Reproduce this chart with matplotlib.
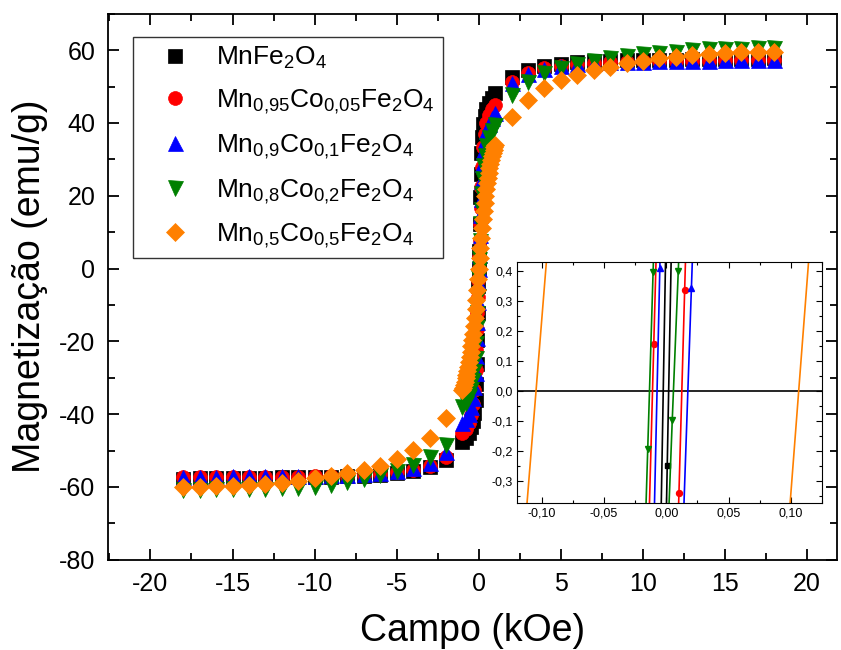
import matplotlib
matplotlib.use('Agg')
import matplotlib.pyplot as plt
from matplotlib.ticker import MultipleLocator, FuncFormatter

plt.rcParams['font.family'] = ['Liberation Sans', 'DejaVu Sans']
plt.rcParams['mathtext.fontset'] = 'custom'
plt.rcParams['mathtext.rm'] = 'Liberation Sans'
plt.rcParams['mathtext.it'] = 'Liberation Sans:italic'
plt.rcParams['axes.unicode_minus'] = False

# ---- main loop data (field in kOe, magnetization in emu/g) ----
field_neg = [-18, -17, -16, -15, -14, -13, -12, -11, -10, -9, -8, -7, -6, -5, -4, -3, -2]
field_pos = [2, 3, 4, 5, 6, 7, 8, 9, 10, 11, 12, 13, 14, 15, 16, 17, 18]
field_core = [-1.0, -0.8, -0.6, -0.45, -0.35, -0.27, -0.2, -0.15, -0.11, -0.08, -0.05, -0.02, 0.0,
              0.02, 0.05, 0.08, 0.11, 0.15, 0.2, 0.27, 0.35, 0.45, 0.6, 0.8, 1.0]
field_core_orange = [-1.0, -0.95, -0.9, -0.85, -0.8, -0.75, -0.7, -0.65, -0.6, -0.55, -0.5, -0.45, -0.4,
                     -0.35, -0.3, -0.25, -0.2, -0.15, -0.1, -0.05, 0.0, 0.05, 0.1, 0.15, 0.2, 0.25, 0.3,
                     0.35, 0.4, 0.45, 0.5, 0.55, 0.6, 0.65, 0.7, 0.75, 0.8, 0.85, 0.9, 0.95, 1.0]

black_neg = [-57.7, -57.6, -57.6, -57.6, -57.5, -57.5, -57.4, -57.4, -57.3, -57.2, -57.1, -56.9, -56.7, -56.3, -55.7, -54.6, -52.6]
black_core = [-47.6, -46.5, -45.1, -43.6, -41.9, -39.6, -36.1, -31.6, -26.1, -19.6, -12.1, -4.8, 0.0,
              4.8, 12.1, 19.6, 26.1, 31.6, 36.1, 39.6, 42.0, 43.8, 45.4, 46.9, 48.1]
black_pos = [52.7, 54.5, 55.7, 56.3, 56.7, 56.9, 57.1, 57.2, 57.3, 57.4, 57.4, 57.5, 57.5, 57.6, 57.6, 57.6, 57.7]

red_neg = [-57.4, -57.4, -57.4, -57.3, -57.3, -57.3, -57.2, -57.2, -57.1, -57.0, -56.9, -56.7, -56.4, -56.0, -55.4, -54.2, -51.7]
red_core = [-45.3, -44.2, -42.5, -40.3, -37.3, -33.4, -27.9, -22.3, -16.7, -12.3, -7.8, -3.1, 0.0,
            3.1, 7.8, 12.3, 16.7, 22.3, 27.9, 33.4, 37.0, 40.0, 42.3, 43.7, 44.9]
red_pos = [51.3, 53.7, 55.0, 55.7, 56.1, 56.4, 56.6, 56.8, 56.9, 57.0, 57.0, 57.1, 57.1, 57.2, 57.2, 57.3, 57.3]

blue_neg = [-57.2, -57.2, -57.2, -57.1, -57.1, -57.1, -57.0, -57.0, -56.9, -56.8, -56.6, -56.4, -56.1, -55.6, -54.9, -53.4, -50.3]
blue_core = [-42.5, -41.4, -39.9, -38.1, -35.6, -32.6, -28.6, -24.1, -19.1, -14.6, -9.3, -3.7, 0.0,
             3.7, 9.3, 14.6, 19.1, 24.1, 28.6, 32.2, 35.2, 37.8, 39.8, 41.4, 42.7]
blue_pos = [50.9, 53.4, 54.8, 55.6, 56.1, 56.4, 56.6, 56.7, 56.8, 56.9, 57.0, 57.1, 57.1, 57.2, 57.3, 57.3, 57.4]

green_neg = [-60.8, -60.8, -60.7, -60.7, -60.6, -60.5, -60.4, -60.2, -59.9, -59.4, -58.7, -57.8, -56.8, -55.7, -54.0, -51.9, -48.4]
green_core = [-38.0, -36.9, -35.1, -33.1, -30.6, -28.1, -24.6, -20.6, -16.1, -12.1, -7.6, -2.5, 0.0,
              2.5, 7.6, 12.1, 16.1, 20.6, 24.6, 28.2, 31.0, 33.6, 35.8, 37.8, 39.4]
green_pos = [47.7, 51.3, 53.6, 55.0, 56.1, 57.0, 57.7, 58.3, 58.8, 59.3, 59.6, 59.9, 60.2, 60.3, 60.4, 60.5, 60.5]

orange_neg = [-60.0, -59.9, -59.8, -59.7, -59.5, -59.2, -58.8, -58.3, -57.6, -56.9, -56.2, -55.4, -54.2, -52.3, -49.9, -46.6, -41.2]
orange_core = [-33.4, -32.7, -31.9, -31.1, -30.2, -29.2, -28.2, -27.0, -25.7, -24.3, -22.9, -21.4, -19.7,
               -17.9, -15.9, -13.7, -11.2, -8.6, -5.8, -2.9, 0.0, 2.9, 5.7, 8.5, 11.1, 13.6, 15.9,
               18.0, 20.0, 21.8, 23.4, 24.9, 26.3, 27.6, 28.8, 29.9, 30.9, 31.8, 32.6, 33.3, 33.9]
orange_pos = [41.7, 46.3, 49.5, 51.8, 53.2, 54.5, 55.4, 56.4, 57.1, 57.7, 58.2, 58.7, 58.9, 59.1, 59.4, 59.6, 59.6]

labels = [r'MnFe$_2$O$_4$',
          r'Mn$_{0{,}95}$Co$_{0{,}05}$Fe$_2$O$_4$',
          r'Mn$_{0{,}9}$Co$_{0{,}1}$Fe$_2$O$_4$',
          r'Mn$_{0{,}8}$Co$_{0{,}2}$Fe$_2$O$_4$',
          r'Mn$_{0{,}5}$Co$_{0{,}5}$Fe$_2$O$_4$']
colors = ['black', '#FF0000', '#0000FF', '#008000', '#FF8000']
markers = ['s', 'o', '^', 'v', 'D']
sizes = [9.4, 10, 10.8, 10.8, 8.7]

# ---- inset: both branches near the origin (kOe, emu/g) ----
ins_black_h = [[-0.0058, 0.0012], [-0.0022, 0.0008, 0.0047]]
ins_black_m = [[-0.80, 0.85], [-0.90, -0.248, 0.60]]
ins_red_h = [[-0.0144, -0.00999, -0.0056], [0.0056, 0.0102, 0.01478, 0.0193]]
ins_red_m = [[-0.52, 0.158, 0.83], [-1.0, -0.340, 0.336, 1.0]]
ins_blue_h = [[-0.0112, -0.00514, -0.0020], [0.0132, 0.0202, 0.0252]]
ins_blue_m = [[-0.70, 0.41, 1.0], [-0.50, 0.343, 0.95]]
ins_green_h = [[-0.0192, -0.01484, -0.01055, -0.0063], [0.0002, 0.00482, 0.00967, 0.0143]]
ins_green_m = [[-0.78, -0.192, 0.397, 0.98], [-0.60, -0.098, 0.401, 0.90]]
ins_orange_h = [[-0.119, -0.090], [0.0925, 0.1201]]
ins_orange_m = [[-0.75, 0.75], [-0.75, 0.75]]

fields = [field_neg + field_core + field_pos] * 4 + [field_neg + field_core_orange + field_pos]
mags = [black_neg + black_core + black_pos,
        red_neg + red_core + red_pos,
        blue_neg + blue_core + blue_pos,
        green_neg + green_core + green_pos,
        orange_neg + orange_core + orange_pos]

fig = plt.figure(figsize=(8.41, 6.5), dpi=100)
ax = fig.add_axes([0.1281, 0.1389, 0.8668, 0.84])

for h, m, c, mk, s, lab in zip(fields, mags, colors, markers, sizes, labels):
    ax.plot(h, m, linestyle='none', marker=mk, ms=s, color=c, mec=c, mew=0.5, label=lab)

ax.set_xlim(-22.6, 21.8)
ax.set_ylim(-80, 70)
ax.xaxis.set_major_locator(MultipleLocator(5))
ax.xaxis.set_minor_locator(MultipleLocator(2.5))
ax.yaxis.set_minor_locator(MultipleLocator(10))
ax.set_yticks([-80, -60, -40, -20, 0, 20, 40, 60])
ax.tick_params(which='both', direction='in', top=True, right=True, width=1.3)
ax.tick_params(which='major', length=8, labelsize=18, pad=9)
ax.tick_params(which='minor', length=5)
for sp in ax.spines.values():
    sp.set_linewidth(1.3)
ax.set_xlabel('Campo (kOe)', fontsize=27, labelpad=12)
ax.set_ylabel('Magnetização (emu/g)', fontsize=27, labelpad=8)

leg = ax.legend(loc='upper left', bbox_to_anchor=(0.0347, 0.957), borderaxespad=0,
                fontsize=19, frameon=True, fancybox=False, edgecolor='black',
                handlelength=2.6, handletextpad=0.25, labelspacing=0.62, borderpad=0.3)
leg.get_frame().set_linewidth(1.0)

# ---- inset ----
ins = fig.add_axes([0.6144, 0.2262, 0.363, 0.3708])
ins.axhline(0, color='black', lw=1.2)
inset_sets = [(ins_black_h, ins_black_m), (ins_red_h, ins_red_m), (ins_blue_h, ins_blue_m),
              (ins_green_h, ins_green_m), (ins_orange_h, ins_orange_m)]
inset_ms = [3.6, 4.3, 4.6, 4.6, 4.0]
for (hs, ms_), c, mk, s in zip(inset_sets, colors, markers, inset_ms):
    for h, m in zip(hs, ms_):
        ins.plot(h, m, color=c, lw=1.2, marker=mk, ms=s, mec=c)

ins.set_xlim(-0.12, 0.125)
ins.set_ylim(-0.373, 0.43)
ins.xaxis.set_major_locator(MultipleLocator(0.05))
ins.xaxis.set_minor_locator(MultipleLocator(0.025))
ins.yaxis.set_major_locator(MultipleLocator(0.1))
ins.yaxis.set_minor_locator(MultipleLocator(0.05))
ins.xaxis.set_major_formatter(FuncFormatter(lambda v, p: f'{round(v, 3) + 0.0:.2f}'.replace('.', ',')))
ins.yaxis.set_major_formatter(FuncFormatter(lambda v, p: f'{round(v, 3) + 0.0:.1f}'.replace('.', ',')))
ins.tick_params(which='both', direction='in', top=True, right=True, width=0.8, labelsize=9, pad=3)
ins.tick_params(which='major', length=4)
ins.tick_params(which='minor', length=2.5)
for sp in ins.spines.values():
    sp.set_linewidth(0.8)

fig.savefig('out.png', dpi=100)
